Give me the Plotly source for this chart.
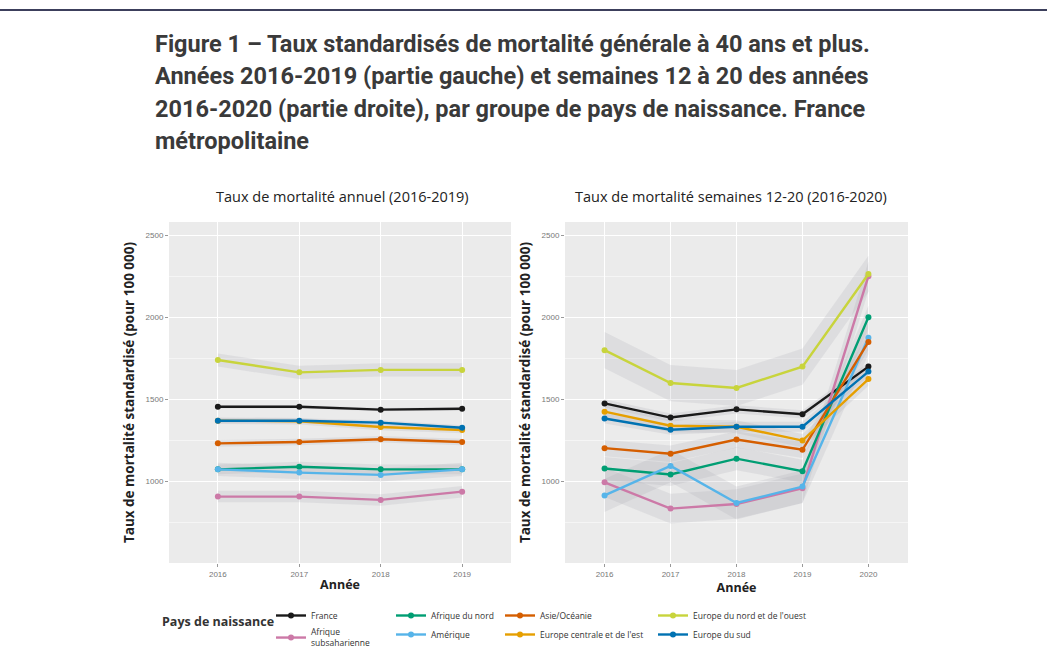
import plotly.graph_objects as go

W, H = 1047, 650

# ---------------- data ----------------
groups = ["France", "Afrique subsaharienne", "Afrique du nord", "Amérique",
          "Asie/Océanie", "Europe centrale et de l'est",
          "Europe du nord et de l'ouest", "Europe du sud"]
legend_names = ["France", "Afrique<br>subsaharienne", "Afrique du nord", "Amérique",
                "Asie/Océanie", "Europe centrale et de l'est",
                "Europe du nord et de l'ouest", "Europe du sud"]
colors = ["#1a1a1a", "#CC79A7", "#009E73", "#56B4E9",
          "#D55E00", "#E69F00", "#C8D43C", "#0072B2"]

annual_years = [2016, 2017, 2018, 2019]
weekly_years = [2016, 2017, 2018, 2019, 2020]

annual_france = [1456, 1456, 1438, 1444]
annual_afr_sub = [909, 909, 889, 939]
annual_afr_nord = [1075, 1091, 1075, 1075]
annual_amerique = [1075, 1055, 1041, 1075]
annual_asie = [1233, 1241, 1258, 1241]
annual_eur_centre = [1371, 1368, 1333, 1314]
annual_eur_nord = [1740, 1665, 1680, 1680]
annual_eur_sud = [1371, 1371, 1359, 1328]

weekly_france = [1476, 1390, 1440, 1410, 1700]
weekly_afr_sub = [996, 836, 864, 960, 2250]
weekly_afr_nord = [1080, 1044, 1140, 1064, 2000]
weekly_amerique = [916, 1096, 870, 970, 1876]
weekly_asie = [1204, 1170, 1256, 1194, 1850]
weekly_eur_centre = [1426, 1340, 1334, 1250, 1624]
weekly_eur_nord = [1800, 1600, 1570, 1700, 2264]
weekly_eur_sud = [1384, 1316, 1334, 1334, 1670]

# half-width of confidence band per group
ci_annual = [10, 35, 30, 40, 20, 20, 40, 15]
ci_weekly = [25, 90, 70, 100, 50, 40, 110, 30]

y_ticks = [1000, 1500, 2000, 2500]

annual_rates = [annual_france, annual_afr_sub, annual_afr_nord, annual_amerique,
                annual_asie, annual_eur_centre, annual_eur_nord, annual_eur_sud]
weekly_rates = [weekly_france, weekly_afr_sub, weekly_afr_nord, weekly_amerique,
                weekly_asie, weekly_eur_centre, weekly_eur_nord, weekly_eur_sud]

legend_of = ["legend", "legend", "legend2", "legend2",
             "legend3", "legend3", "legend4", "legend4"]

fig = go.Figure()

RIB = "rgba(160,160,170,0.18)"

def add_panel(years, rates_list, cis, xa, ya, show):
    for vals, hw in zip(rates_list, cis):
        up = [v + hw for v in vals]
        lo = [v - hw for v in vals]
        fig.add_trace(go.Scatter(
            x=years + years[::-1], y=up + lo[::-1], fill="toself",
            fillcolor=RIB, line=dict(width=0), mode="lines",
            hoverinfo="skip", showlegend=False, xaxis=xa, yaxis=ya))
    for i, vals in enumerate(rates_list):
        fig.add_trace(go.Scatter(
            x=years, y=vals, mode="lines+markers",
            name=legend_names[i], legendgroup=groups[i],
            line=dict(color=colors[i], width=2.4),
            marker=dict(color=colors[i], size=6),
            showlegend=show, legend=legend_of[i],
            xaxis=xa, yaxis=ya))

add_panel(annual_years, annual_rates, ci_annual, "x", "y", True)
add_panel(weekly_years, weekly_rates, ci_weekly, "x2", "y2", False)

px = lambda v: v / W
py = lambda v: 1 - v / H

panel_bg = "#EBEBEB"
yr = [505, 2580]
common_y = dict(range=yr, tickvals=y_ticks, showgrid=True, gridcolor="white",
                gridwidth=1, ticks="outside", ticklen=3, tickcolor="#999",
                tickfont=dict(family="Liberation Sans", size=8, color="#777"),
                zeroline=False, showline=False,
                minor=dict(tickvals=[750, 1250, 1750, 2250], showgrid=True,
                           gridcolor="#F5F5F5", gridwidth=0.5),
                title=dict(text="<b>Taux de mortalité standardisé (pour 100 000)</b>",
                           font=dict(family="Open Sans", size=13.5, color="#222"),
                           standoff=7))
common_x = dict(showgrid=True, gridcolor="white", gridwidth=1, ticks="outside",
                ticklen=3, tickcolor="#999", zeroline=False, showline=False,
                tickfont=dict(family="Liberation Sans", size=8, color="#777"),
                title=dict(text="<b>Année</b>",
                           font=dict(family="Open Sans", size=12.5, color="#222"),
                           standoff=2))

fig.update_layout(
    width=W, height=H, autosize=False,
    margin=dict(l=0, r=0, t=0, b=0, autoexpand=False),
    paper_bgcolor="white", plot_bgcolor=panel_bg,
    xaxis=dict(domain=[px(169), px(511)], range=[2015.4, 2019.6],
               tickvals=annual_years, anchor="y", **common_x),
    yaxis=dict(domain=[py(563), py(222)], anchor="x", **common_y),
    xaxis2=dict(domain=[px(565), px(908)], range=[2015.4, 2020.6],
                tickvals=weekly_years, anchor="y2", **common_x),
    yaxis2=dict(domain=[py(563), py(222)], anchor="x2", **common_y),
    showlegend=True,
)

leg_common = dict(orientation="v", yanchor="top", xanchor="left",
                  bgcolor="rgba(0,0,0,0)", itemwidth=30, tracegroupgap=0,
                  borderwidth=0,
                  font=dict(family="Open Sans", size=8.5, color="#333"))
LEG_TOP = 601
fig.update_layout(
    legend=dict(x=px(271), y=py(LEG_TOP), **leg_common),
    legend2=dict(x=px(391), y=py(LEG_TOP), **leg_common),
    legend3=dict(x=px(500), y=py(LEG_TOP), **leg_common),
    legend4=dict(x=px(653), y=py(LEG_TOP), **leg_common),
)

fig.add_shape(type="rect", xref="x2 domain", yref="y2 domain", x0=0, x1=1, y0=0, y1=1,
              fillcolor=panel_bg, line=dict(width=0), layer="below")

# Title lines
title_lines = [
    "Figure 1 – Taux standardisés de mortalité générale à 40 ans et plus.",
    "Années 2016-2019 (partie gauche) et semaines 12 à 20 des années",
    "2016-2020 (partie droite), par groupe de pays de naissance. France",
    "métropolitaine",
]
for i, t in enumerate(title_lines):
    fig.add_annotation(text="<b>" + t + "</b>", xref="paper", yref="paper",
                       x=px(153), y=py(44 + i * 32.5), xanchor="left", yanchor="middle",
                       showarrow=False,
                       font=dict(family="Roboto", size=23.5, color="#3a3a3a"))

# subplot titles
fig.add_annotation(text="Taux de mortalité annuel (2016-2019)", xref="paper", yref="paper",
                   x=px(342), y=py(196), xanchor="center", yanchor="middle", showarrow=False,
                   font=dict(family="Open Sans", size=14.5, color="#222"))
fig.add_annotation(text="Taux de mortalité semaines 12-20 (2016-2020)", xref="paper",
                   yref="paper", x=px(731), y=py(196), xanchor="center", yanchor="middle",
                   showarrow=False, font=dict(family="Open Sans", size=14.5, color="#222"))

# legend title
fig.add_annotation(text="<b>Pays de naissance</b>", xref="paper", yref="paper",
                   x=px(160), y=py(621), xanchor="left", yanchor="middle", showarrow=False,
                   font=dict(family="Open Sans", size=12.5, color="#333"))

# top border line
fig.add_shape(type="line", xref="paper", yref="paper", x0=0, x1=1, y0=py(10), y1=py(10),
              line=dict(color="#3c3f5c", width=2))

fig.write_html("out.html", config={"displayModeBar": False},
               post_script="document.body.style.margin='0';")
